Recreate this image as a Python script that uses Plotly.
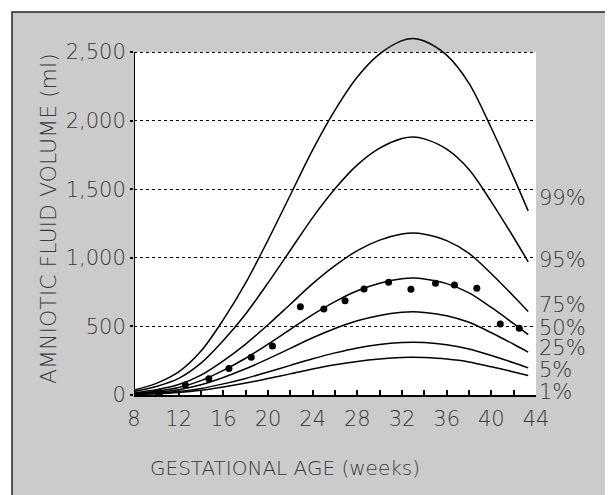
import plotly.graph_objects as go

# Gestational age (weeks) at which the percentile curves were read
weeks = [8, 10, 12, 14, 16, 18, 20, 22, 24, 26, 28, 30, 32, 33, 34, 36, 38, 40, 42, 43.3]

# Percentile curves (ml)
p99 = [37, 85, 168, 320, 549, 817, 1129, 1458, 1787, 2077, 2318, 2486, 2583, 2599, 2580, 2477, 2272, 1946, 1586, 1342]
p95 = [26, 62, 121, 232, 397, 591, 817, 1055, 1293, 1503, 1677, 1799, 1869, 1880, 1867, 1792, 1644, 1408, 1148, 971]
p75 = [17, 39, 76, 145, 249, 371, 512, 662, 812, 943, 1053, 1129, 1173, 1180, 1172, 1125, 1032, 884, 720, 609]
p50 = [12, 28, 55, 105, 180, 268, 370, 478, 586, 681, 760, 815, 847, 852, 846, 812, 745, 638, 520, 440]
p25 = [9, 20, 39, 75, 128, 191, 263, 340, 417, 485, 541, 580, 603, 607, 602, 578, 530, 454, 370, 313]
p05 = [5, 13, 25, 47, 81, 121, 167, 216, 264, 307, 343, 368, 382, 384, 382, 366, 336, 288, 235, 198]
p01 = [4, 9, 18, 34, 58, 87, 120, 154, 189, 220, 245, 263, 274, 275, 273, 262, 241, 206, 168, 142]

# Observed mean volumes (dots)
dot_weeks = [10.3, 12.6, 14.7, 16.5, 18.5, 20.4, 22.9, 25.0, 26.9, 28.6, 30.8, 32.8, 35.0, 36.7, 38.7, 40.8, 42.5]
dot_vals = [18, 73, 119, 194, 275, 357, 644, 627, 687, 772, 821, 770, 814, 802, 778, 517, 486]

curve_names = ["99%", "95%", "75%", "50%", "25%", "5%", "1%"]
curves = [p99, p95, p75, p50, p25, p05, p01]

y_ticks = [0, 500, 1000, 1500, 2000, 2500]
y_labels = ["0", "500", "1,000", "1,500", "2,000", "2,500"]
x_ticks = list(range(8, 45, 2))
x_labels = [str(w) if (w - 8) % 4 == 0 else "" for w in x_ticks]

# label anchor heights for percentile names (layout only)
label_y = [1436, 984, 656, 488, 343, 182, 22]

GRAY = "#cbcbcb"
TXT = "#3a3a3a"
FONT = "DejaVu Sans"

fig = go.Figure()
for name, vals in zip(curve_names, curves):
    fig.add_trace(go.Scatter(
        x=weeks, y=vals, mode="lines", name=name,
        line=dict(color="black", width=1.5, shape="spline", smoothing=0.9),
        showlegend=False, hoverinfo="skip"))

fig.add_trace(go.Scatter(
    x=dot_weeks, y=dot_vals, mode="markers",
    marker=dict(color="black", size=7), showlegend=False))

shapes = [
    # stippled page background with frame
    dict(type="rect", xref="paper", yref="paper",
         x0=(12 - 134) / 402, x1=(612 - 134) / 402,
         y0=(395 - 500) / 370, y1=(395 - 12) / 370,
         fillcolor=GRAY, line=dict(color="#222", width=1.5), layer="below"),
    # white data area
    dict(type="rect", xref="x", yref="y", x0=8, x1=44.2, y0=0, y1=2500,
         fillcolor="white", line=dict(width=0), layer="below"),
    # left axis line
    dict(type="line", xref="x", yref="y", x0=8, x1=8, y0=0, y1=2500,
         line=dict(color="black", width=2), layer="above"),
]

annotations = []
for name, ly in zip(curve_names, label_y):
    annotations.append(dict(
        text=name, xref="paper", yref="y", x=(537 - 134) / 402, y=ly,
        xanchor="left", yanchor="middle", showarrow=False,
        font=dict(family=FONT, size=21, color=TXT, weight=300)))
annotations.append(dict(
    text="GESTATIONAL AGE (weeks)", xref="paper", yref="paper",
    x=(285 - 134) / 402, y=(395 - 468) / 370, xanchor="center", yanchor="middle",
    showarrow=False, font=dict(family=FONT, size=20, color=TXT, weight=300)))
annotations.append(dict(
    text="AMNIOTIC FLUID VOLUME (ml)", xref="paper", yref="paper",
    x=(48 - 134) / 402, y=(395 - 219) / 370, xanchor="center", yanchor="middle",
    textangle=-90, showarrow=False, font=dict(family=FONT, size=22, color=TXT, weight=300)))

fig.update_layout(
    width=605, height=487,
    margin=dict(l=126, r=77, t=17, b=100, pad=0),
    paper_bgcolor="white", plot_bgcolor="rgba(0,0,0,0)",
    shapes=shapes, annotations=annotations,
    font=dict(family=FONT, color=TXT),
)
fig.update_xaxes(
    range=[8, 44], tickvals=x_ticks, ticktext=x_labels,
    ticks="inside", ticklen=5, tickwidth=1.5, tickcolor="black",
    showline=True, linecolor="black", linewidth=2,
    showgrid=False, zeroline=False,
    tickfont=dict(family=FONT, size=21, color=TXT, weight=300), ticklabelstandoff=4)
fig.update_yaxes(
    range=[0, 2697], tickvals=y_ticks, ticktext=y_labels,
    ticks="outside", ticklen=3, tickwidth=1.5, tickcolor="black",
    showline=False, showgrid=True, gridcolor="black", gridwidth=1, griddash="dot",
    zeroline=False,
    tickfont=dict(family=FONT, size=21, color=TXT, weight=300))

fig.write_html("out.html")
